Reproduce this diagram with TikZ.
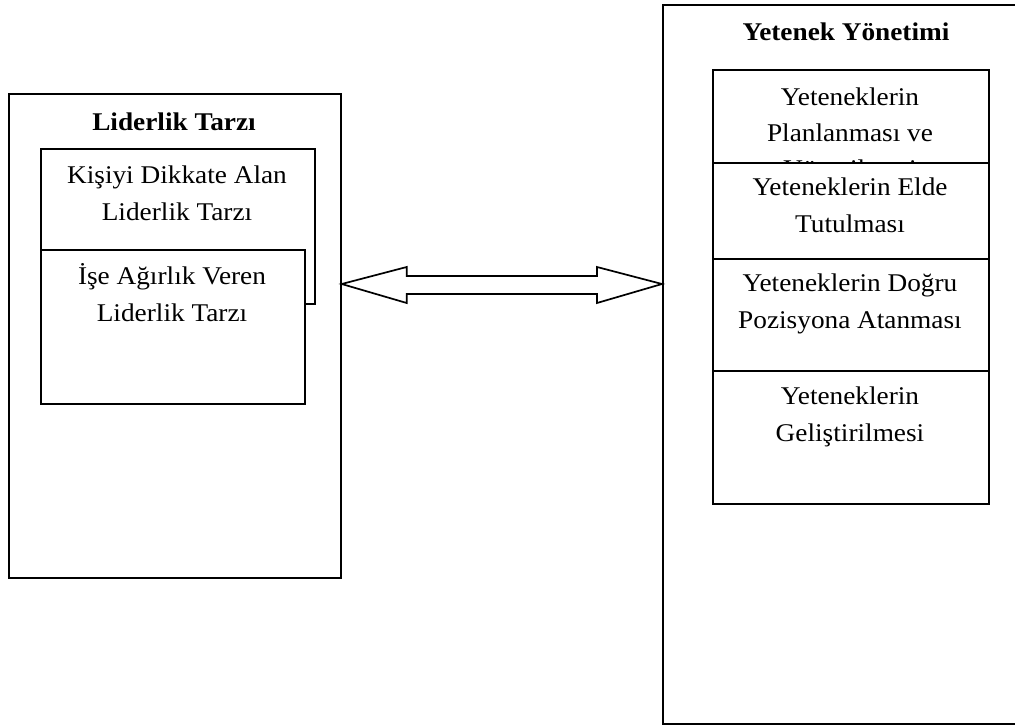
\documentclass[tikz,border=0pt]{standalone}
\usepackage{fontspec}
\setmainfont[FakeStretch=1.07]{Liberation Serif}
\begin{document}
\begin{tikzpicture}[x=1pt,y=-1pt,
  box/.style={draw, line width=1.7pt, fill=white, rectangle, inner sep=0pt, anchor=north west},
  txt/.style={font=\fontsize{25.5}{36.5}\selectfont, align=center, inner sep=0pt, anchor=base},
  ttl/.style={font=\fontsize{25.5}{30}\selectfont\bfseries, inner sep=0pt, anchor=base}]
\useasboundingbox (0,0) rectangle (1015,725);
\fill[white] (0,0) rectangle (1015,725);
% left group
\node[box, minimum width=332pt, minimum height=484pt] (L) at (8,93) {};
\node[ttl] (Lt) at (174,130) {Liderlik Tarzı};
\node[box, minimum width=274pt, minimum height=155pt] (K) at (40,148) {};
\node[txt] (Kt) at (177,220) {Kişiyi Dikkate Alan\\Liderlik Tarzı};
\node[box, minimum width=264pt, minimum height=154pt] (I) at (40,249) {};
\node[txt] (It) at (172,321) {İşe Ağırlık Veren\\Liderlik Tarzı};
% right group
\node[box, minimum width=370pt, minimum height=719pt] (R) at (662,4) {};
\node[ttl] (Rt) at (846,41) {Yetenek Yönetimi};
\node[box, minimum width=276pt, minimum height=130pt] (Y1) at (712,69) {};
\node[txt, font=\fontsize{25.5}{36}\selectfont] (Y1t) at (850,177) {Yeteneklerin\\Planlanması ve\\Yönetilmesi};
\node[box, minimum width=276pt, minimum height=96pt] (Y2) at (712,162) {};
\node[txt] (Y2t) at (850,232) {Yeteneklerin Elde\\Tutulması};
\node[box, minimum width=276pt, minimum height=112pt] (Y3) at (712,258) {};
\node[txt] (Y3t) at (850,328) {Yeteneklerin Doğru\\Pozisyona Atanması};
\node[box, minimum width=276pt, minimum height=133pt] (Y4) at (712,370) {};
\node[txt] (Y4t) at (850,441) {Yeteneklerin\\Geliştirilmesi};
% double arrow
\coordinate (A1) at (L.east |- 0,284);
\coordinate (A2) at (R.west |- 0,284);
\draw[line width=1.7pt, fill=white, line join=miter]
  (A1) -- ([xshift=65pt]A1 |- 0,267) -- ([xshift=65pt]A1 |- 0,276)
  -- ([xshift=-65pt]A2 |- 0,276) -- ([xshift=-65pt]A2 |- 0,267)
  -- (A2) -- ([xshift=-65pt]A2 |- 0,303) -- ([xshift=-65pt]A2 |- 0,294)
  -- ([xshift=65pt]A1 |- 0,294) -- ([xshift=65pt]A1 |- 0,303) -- cycle;
\end{tikzpicture}
\end{document}
